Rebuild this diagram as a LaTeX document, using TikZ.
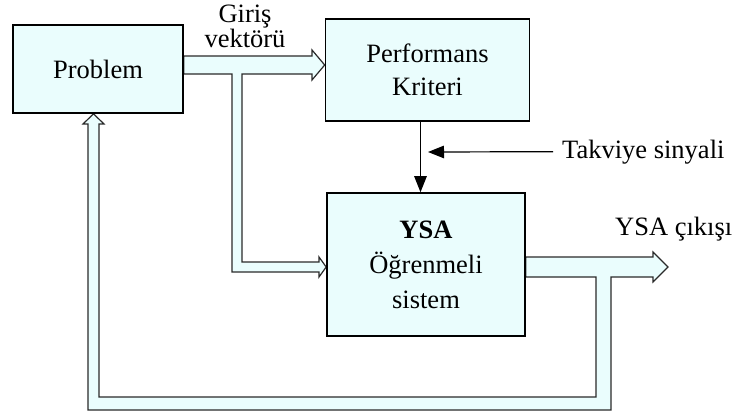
\documentclass[tikz,border=0pt]{standalone}
\usepackage{fontspec}
\setmainfont{Liberation Serif}
\usepackage{tikz}
\usetikzlibrary{arrows.meta,positioning,calc,backgrounds}
\newcommand{\metin}{\fontsize{26.5}{33}\selectfont}
\newcommand{\metinb}{\fontsize{26.5}{35}\selectfont}
\newcommand{\metinc}{\fontsize{26.5}{25}\selectfont}
\definecolor{cpanel}{HTML}{EAFDFD}
\definecolor{cline}{HTML}{2A2A2A}
\tikzset{
  blok/.style={draw=black, line width=1.6pt, fill=cpanel, align=center, inner sep=0pt, font=\metin},
  pipe/.style={draw=cline, line width=1.2pt, fill=cpanel, line join=miter},
  sig/.style={-{Triangle[length=16pt,width=12.5pt]}, line width=1.2pt, draw=black},
  lbl/.style={font=\metin, inner sep=0pt},
}
\begin{document}
\begin{tikzpicture}[x=1pt,y=-1pt]
\useasboundingbox (0,0) rectangle (741,418);
\node[blok, minimum width=170pt, minimum height=88pt] (prob) at (98,69) {Problem};
\node[blok, minimum width=204pt, minimum height=102pt] (perf) at (427.5,70) {Performans\\Kriteri};
\node[blok, minimum width=198pt, minimum height=143pt, font=\metinb] (ysa) at (426,264.5) {\textbf{YSA}\\Öğrenmeli\\sistem};
\begin{scope}[on background layer]
\draw[pipe] (prob.east |- 0,56) -- (312,56) -- (312,50) -- (perf.west |- 0,65) -- (312,80) -- (312,74)
  -- (242,74) -- (242,262) -- (319,262) -- (319,257) -- (ysa.west |- 0,267) -- (319,277) -- (319,272)
  -- (232,272) -- (232,74) -- (prob.east |- 0,74) -- cycle;
\draw[pipe] (ysa.east |- 0,257) -- (653,257) -- (653,252) -- (668,267) -- (653,282) -- (653,277)
  -- (611,277) -- (611,410) -- (88,410) -- (88,124) -- (83,124) -- (93.5,0 |- prob.south) -- (104,124)
  -- (99,124) -- (99,397) -- (596,397) -- (596,277) -- (ysa.east |- 0,277) -- cycle;
\end{scope}
\node[lbl, font=\metinc, align=center] (giris) at (245,26) {Giriş\\vektörü};
\node[lbl, anchor=base west] (takv) at (562,158) {Takviye sinyali};
\node[lbl, anchor=base west] (cikis) at (615,235) {YSA çıkışı};
\coordinate (tk) at (428,152);
\draw[sig] ([xshift=-7pt]perf.south) -- ([xshift=-7pt]perf.south |- ysa.north);
\draw[sig, shorten <=9pt] (takv.west) -- (tk);
\end{tikzpicture}
\end{document}
